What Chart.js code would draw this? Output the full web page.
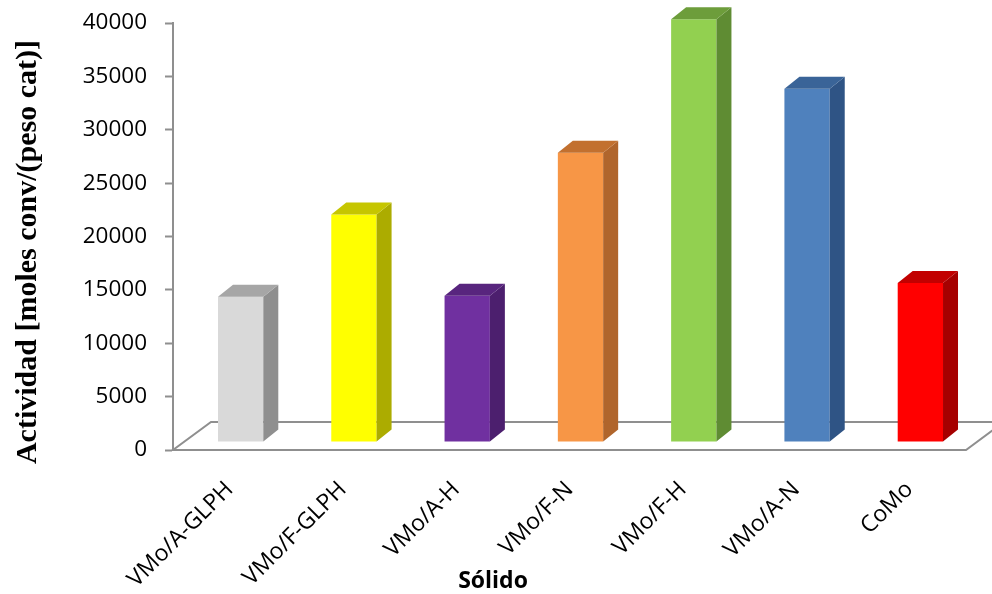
<!DOCTYPE html>
<html>
<head>
<meta charset="utf-8">
<script src="https://cdn.jsdelivr.net/npm/chart.js@4/dist/chart.umd.min.js"></script>
<style>
  html, body { margin: 0; padding: 0; background: #fff; }
  #wrap { width: 992px; height: 594px; position: relative; }
</style>
</head>
<body>
<div id="wrap"><canvas id="chart"></canvas></div>
<script>
// Catalyst samples and their measured activity
const categories = ['VMo/A-GLPH', 'VMo/F-GLPH', 'VMo/A-H', 'VMo/F-N', 'VMo/F-H', 'VMo/A-N', 'CoMo'];
const activity = [13600, 21300, 13700, 27100, 39600, 33100, 14900];
const yTicks = [0, 5000, 10000, 15000, 20000, 25000, 30000, 35000, 40000];

// Face colours of each column: front, right side, top
const frontColors = ['#d9d9d9', '#ffff00', '#7030a0', '#f79646', '#92d050', '#4f81bd', '#ff0000'];
const sideColors  = ['#8f8f8f', '#acac00', '#4c1f6e', '#b0652c', '#5f8c33', '#2f5485', '#a60000'];
const topColors   = ['#a6a6a6', '#c6c600', '#58257e', '#c2702f', '#6d9d3b', '#3a6498', '#c20000'];

const yTitle = 'Actividad [moles conv/(peso cat)]';
const xTitle = 'Sólido';

// Oblique projection used for the floor and the column depth
const FLOOR_DX = 38, FLOOR_DY = -28;
const SHIFT_X = 11, SHIFT_Y = -8;
const DEPTH_DX = 15, DEPTH_DY = -12;
const AXIS_GRAY = '#8f8f8f';

const depthPlugin = {
  id: 'depth3d',
  beforeDatasetsDraw(chart) {
    const { ctx, chartArea: a } = chart;
    const y0 = chart.scales.y.getPixelForValue(0);
    ctx.save();
    ctx.strokeStyle = AXIS_GRAY;
    ctx.lineWidth = 2;
    ctx.beginPath();
    ctx.moveTo(a.left, y0);
    ctx.lineTo(a.right, y0);
    ctx.lineTo(a.right + FLOOR_DX, y0 + FLOOR_DY);
    ctx.lineTo(a.left + FLOOR_DX, y0 + FLOOR_DY);
    ctx.closePath();
    ctx.stroke();
    ctx.restore();
    // front faces sit inside the floor depth
    ctx.save();
    ctx.translate(SHIFT_X, SHIFT_Y);
  },
  afterDatasetsDraw(chart) {
    const { ctx } = chart;
    ctx.restore();
    const meta = chart.getDatasetMeta(0);
    ctx.save();
    ctx.translate(SHIFT_X, SHIFT_Y);
    meta.data.forEach((el, i) => {
      const p = el.getProps(['x', 'y', 'base', 'width'], true);
      const xl = p.x - p.width / 2, xr = p.x + p.width / 2;
      const yt = p.y, yb = p.base;
      ctx.fillStyle = sideColors[i];
      ctx.beginPath();
      ctx.moveTo(xr, yt);
      ctx.lineTo(xr, yb);
      ctx.lineTo(xr + DEPTH_DX, yb + DEPTH_DY);
      ctx.lineTo(xr + DEPTH_DX, yt + DEPTH_DY);
      ctx.closePath();
      ctx.fill();
      ctx.fillStyle = topColors[i];
      ctx.beginPath();
      ctx.moveTo(xl, yt);
      ctx.lineTo(xr, yt);
      ctx.lineTo(xr + DEPTH_DX, yt + DEPTH_DY);
      ctx.lineTo(xl + DEPTH_DX, yt + DEPTH_DY);
      ctx.closePath();
      ctx.fill();
    });
    ctx.restore();
  },
  afterDraw(chart) {
    const { ctx } = chart;
    ctx.save();
    ctx.fillStyle = '#000';
    ctx.font = 'bold 30px "Liberation Serif", "Times New Roman", serif';
    ctx.textAlign = 'center';
    ctx.textBaseline = 'alphabetic';
    ctx.translate(36, 252);
    ctx.rotate(-Math.PI / 2);
    ctx.fillText(yTitle, 0, 0);
    ctx.restore();

    ctx.save();
    ctx.fillStyle = '#000';
    ctx.font = 'bold 23px "Open Sans", sans-serif';
    ctx.textAlign = 'center';
    ctx.textBaseline = 'middle';
    ctx.fillText(xTitle, 493, 581);
    ctx.restore();
  }
};

new Chart(document.getElementById('chart'), {
  type: 'bar',
  data: {
    labels: categories,
    datasets: [{
      data: activity,
      backgroundColor: frontColors,
      borderWidth: 0,
      barPercentage: 0.4,
      categoryPercentage: 1,
      clip: false
    }]
  },
  options: {
    responsive: true,
    maintainAspectRatio: false,
    animation: false,
    devicePixelRatio: 1,
    layout: { autoPadding: false, padding: { top: 23, right: 26, left: 0, bottom: 0 } },
    plugins: { legend: { display: false }, tooltip: { enabled: false } },
    scales: {
      x: {
        grid: { display: false, drawTicks: false },
        border: { display: false },
        ticks: {
          color: '#000',
          font: { family: '"Open Sans", sans-serif', size: 23 },
          minRotation: 45,
          maxRotation: 45,
          autoSkip: false,
          padding: 26
        },
        afterFit(s) { s.height = 144; s.paddingLeft = 0; s.paddingRight = 0; }
      },
      y: {
        min: 0,
        max: 40000,
        grid: {
          drawOnChartArea: false,
          drawTicks: true,
          tickLength: 8,
          tickColor: AXIS_GRAY,
          tickWidth: 2
        },
        border: { display: true, color: AXIS_GRAY, width: 2 },
        afterBuildTicks(s) { s.ticks = yTicks.map(v => ({ value: v })); },
        ticks: {
          color: '#000',
          font: { family: '"Open Sans", sans-serif', size: 22.5 },
          padding: 18,
          callback: v => String(v)
        },
        afterFit(s) { s.width = 173; s.paddingTop = 0; s.paddingBottom = 0; }
      }
    }
  },
  plugins: [depthPlugin]
});
</script>
</body>
</html>
